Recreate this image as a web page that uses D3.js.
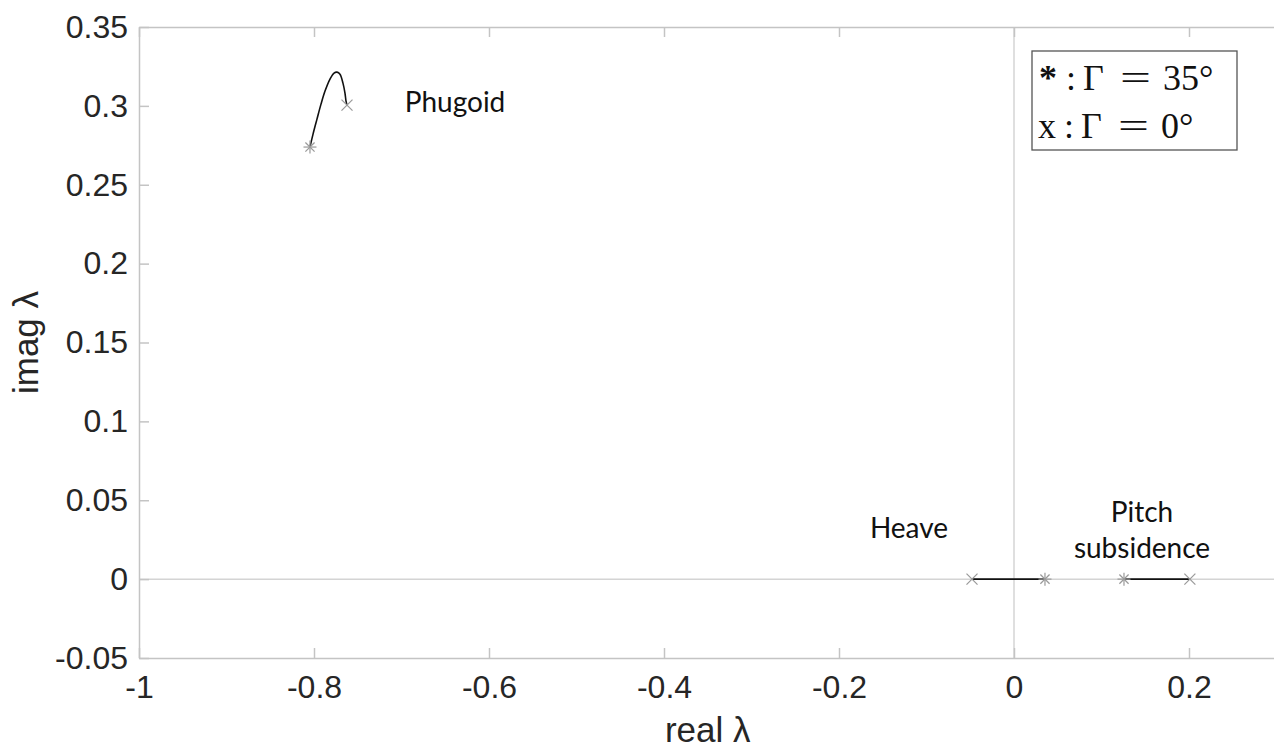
<!DOCTYPE html>
<html>
<head>
<meta charset="utf-8">
<script src="https://cdn.jsdelivr.net/npm/d3@7"></script>
<style>
  html, body { margin: 0; padding: 0; background: #fff; }
  svg { display: block; }
</style>
</head>
<body>
<svg id="chart" width="1274" height="751"></svg>
<script>
// Eigenvalue root locus: real vs imaginary part of lambda
const xTicks = [-1, -0.8, -0.6, -0.4, -0.2, 0, 0.2];
const yTicks = [-0.05, 0, 0.05, 0.1, 0.15, 0.2, 0.25, 0.3, 0.35];
const xTickLabels = ["-1", "-0.8", "-0.6", "-0.4", "-0.2", "0", "0.2"];
const yTickLabels = ["-0.05", "0", "0.05", "0.1", "0.15", "0.2", "0.25", "0.3", "0.35"];

// Phugoid branch, from Γ = 35° to Γ = 0°
const phugoidRe = [-0.8046, -0.8011, -0.7966, -0.7920, -0.7874, -0.7817, -0.7771, -0.7737, -0.7703, -0.7669, -0.7646, -0.7634, -0.7623];
const phugoidIm = [0.2739, 0.2821, 0.2916, 0.3011, 0.3094, 0.3170, 0.3208, 0.3214, 0.3201, 0.3144, 0.3081, 0.3030, 0.3005];

// Heave branch (real axis)
const heaveRe = [0.0354, -0.048];
const heaveIm = [0, 0];

// Pitch subsidence branch (real axis)
const pitchRe = [0.1257, 0.201];
const pitchIm = [0, 0];

const svg = d3.select("#chart");
const plotLeft = 139, plotTop = 27, plotBottom = 658;
const x = d3.scaleLinear().domain([-1, 0.3]).range([plotLeft, plotLeft + 1.3 * 875]);
const y = d3.scaleLinear().domain([-0.05, 0.35]).range([plotBottom, plotTop]);

const axisColor = "#c4c4c4";
const textColor = "#262626";
const tickFont = "'Liberation Sans', Arial, Helvetica, sans-serif";

// zero reference lines
svg.append("line")
  .attr("x1", x(-1)).attr("x2", x(0.3))
  .attr("y1", y(0)).attr("y2", y(0))
  .attr("stroke", "#d4d4d4").attr("stroke-width", 1.5);
svg.append("line")
  .attr("x1", x(0)).attr("x2", x(0))
  .attr("y1", y(-0.05)).attr("y2", y(0.35))
  .attr("stroke", "#d4d4d4").attr("stroke-width", 1.5);

// axes (ticks pointing inward, box on)
function styleAxis(g) {
  g.select(".domain").attr("stroke", axisColor).attr("stroke-width", 1.5);
  g.selectAll(".tick line").attr("stroke", axisColor).attr("stroke-width", 1.5);
  g.selectAll(".tick text").attr("fill", textColor)
    .attr("font-family", tickFont).attr("font-size", 32);
}

const xAxis = svg.append("g").attr("transform", `translate(0,${plotBottom})`)
  .call(d3.axisBottom(x).tickValues(xTicks).tickSizeInner(-10).tickSizeOuter(0)
    .tickPadding(17).tickFormat((d, i) => xTickLabels[i]));
styleAxis(xAxis);

const xAxisTop = svg.append("g").attr("transform", `translate(0,${plotTop})`)
  .call(d3.axisTop(x).tickValues(xTicks).tickSizeInner(-10).tickSizeOuter(0).tickFormat(""));
styleAxis(xAxisTop);

const yAxis = svg.append("g").attr("transform", `translate(${plotLeft},0)`)
  .call(d3.axisLeft(y).tickValues(yTicks).tickSizeInner(-10).tickSizeOuter(0)
    .tickPadding(11).tickFormat((d, i) => yTickLabels[i]));
styleAxis(yAxis);

// axis titles
svg.append("text")
  .attr("x", (x(-1) + x(0.3)) / 2).attr("y", 742)
  .attr("text-anchor", "middle")
  .attr("font-family", tickFont).attr("font-size", 35).attr("fill", textColor)
  .text("real λ");
svg.append("text")
  .attr("transform", `translate(38,${(plotTop + plotBottom) / 2}) rotate(-90)`)
  .attr("text-anchor", "middle")
  .attr("font-family", tickFont).attr("font-size", 35).attr("fill", textColor)
  .text("imag λ");

// branches
const line = d3.line().x(d => x(d[0])).y(d => y(d[1])).curve(d3.curveCatmullRom.alpha(0.5));
const branches = [
  { re: phugoidRe, im: phugoidIm },
  { re: heaveRe, im: heaveIm },
  { re: pitchRe, im: pitchIm }
];
branches.forEach(b => {
  const pts = b.re.map((r, i) => [r, b.im[i]]);
  svg.append("path").datum(pts)
    .attr("d", line)
    .attr("fill", "none").attr("stroke", "#111").attr("stroke-width", 1.6);

  const start = pts[0], end = pts[pts.length - 1];
  // star marker at Γ = 35°
  const s = 6.5;
  const g1 = svg.append("g").attr("transform", `translate(${x(start[0])},${y(start[1])})`)
    .attr("stroke", "#9a9a9a").attr("stroke-width", 1.2);
  [0, 45, 90, 135].forEach(a => {
    const rad = a * Math.PI / 180;
    g1.append("line")
      .attr("x1", -s * Math.cos(rad)).attr("y1", -s * Math.sin(rad))
      .attr("x2", s * Math.cos(rad)).attr("y2", s * Math.sin(rad));
  });
  // cross marker at Γ = 0°
  const c = 5.5;
  const g2 = svg.append("g").attr("transform", `translate(${x(end[0])},${y(end[1])})`)
    .attr("stroke", "#9a9a9a").attr("stroke-width", 1.2);
  g2.append("line").attr("x1", -c).attr("y1", -c).attr("x2", c).attr("y2", c);
  g2.append("line").attr("x1", -c).attr("y1", c).attr("x2", c).attr("y2", -c);
});

// branch annotations
const annFont = "Lato, 'Open Sans', sans-serif";
function ann(tx, ty, str) {
  svg.append("text").attr("x", tx).attr("y", ty)
    .attr("text-anchor", "middle")
    .attr("font-family", annFont).attr("font-size", 28).attr("fill", "#111")
    .text(str);
}
ann(455, 112, "Phugoid");
ann(909, 538, "Heave");
ann(1142, 522, "Pitch");
ann(1142, 558, "subsidence");

// legend box
svg.append("rect")
  .attr("x", 1032).attr("y", 51).attr("width", 205).attr("height", 99)
  .attr("fill", "#fff").attr("stroke", "#555").attr("stroke-width", 1.3);
const legFont = "'Liberation Serif', 'DejaVu Serif', serif";
const legRows = [
  { base: 90, parts: [["*", 1039], [":", 1066], ["Γ", 1083], ["=", 1120], ["35°", 1163]] },
  { base: 138, parts: [["x", 1038], [":", 1064], ["Γ", 1081], ["=", 1118], ["0°", 1161]] }
];
legRows.forEach(r => {
  r.parts.forEach(([str, px]) => {
    const t = svg.append("text").attr("x", px).attr("y", r.base)
      .attr("font-family", legFont).attr("font-size", 36).attr("fill", "#111")
      .attr("font-weight", str === "*" ? "bold" : "normal")
      .text(str);
    if (str === "=") t.attr("textLength", 31).attr("lengthAdjust", "spacingAndGlyphs");
  });
});
</script>
</body>
</html>
